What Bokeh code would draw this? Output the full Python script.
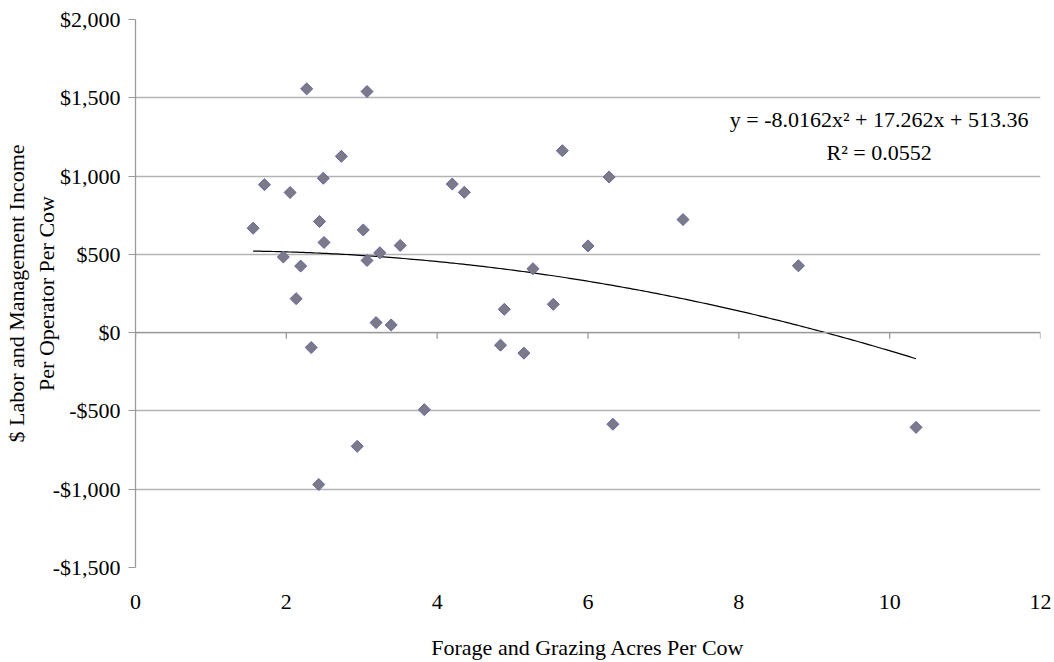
from bokeh.plotting import figure
from bokeh.models import LinearAxis, FixedTicker, CustomJSTickFormatter, Label, Span
from bokeh.embed import file_html
from bokeh.resources import INLINE
import numpy as np

# Data
acres = [2.27, 3.07, 2.73, 2.49, 1.71, 2.05, 2.44, 1.56, 3.02, 2.50, 3.24, 3.51,
         1.96, 3.07, 2.19, 2.13, 3.19, 3.39, 2.33, 2.94, 2.43,
         4.20, 4.36, 5.66, 6.28, 7.26, 6.00, 5.27, 4.89, 5.54,
         4.84, 5.15, 3.83, 6.33, 8.79, 10.35]
income = [1557, 1540, 1126, 986, 945, 895, 710, 667, 656, 576, 510, 557,
          483, 461, 425, 217, 64, 49, -95, -726, -970,
          949, 896, 1162, 994, 722, 554, 408, 149, 181,
          -80, -131, -492, -585, 427, -605]

# Polynomial trendline coefficients (as printed on chart)
coef_a, coef_b, coef_c = -8.0162, 17.262, 513.36
r_squared = "0.0552"

x_ticks = [0, 2, 4, 6, 8, 10, 12]
y_ticks = [-1500, -1000, -500, 0, 500, 1000, 1500, 2000]

FONT = "Liberation Serif"
FS = "22px"
AXIS_GRAY = "#9a9a9a"

p = figure(width=1054, height=662, output_backend="svg", toolbar_location=None,
           x_range=(0, 12), y_range=(-1500, 2000),
           min_border_left=135, min_border_right=14, min_border_top=19,
           min_border_bottom=94, x_axis_location=None, y_axis_location="left")
p.outline_line_color = None
p.background_fill_color = "white"
p.border_fill_color = "white"

# grid
p.xgrid.grid_line_color = None
p.ygrid.ticker = FixedTicker(ticks=y_ticks)
p.ygrid.grid_line_color = "#b3b3b3"
p.ygrid.grid_line_width = 1.3

# y axis
ya = p.yaxis[0]
ya.ticker = FixedTicker(ticks=y_ticks)
ya.formatter = CustomJSTickFormatter(code="""
const a = Math.abs(tick).toLocaleString('en-US');
return (tick < 0 ? '-$' : '$') + a;
""")
ya.axis_line_color = AXIS_GRAY
ya.axis_line_width = 1.3
ya.major_tick_line_color = AXIS_GRAY
ya.major_tick_out = 7
ya.major_tick_in = 0
ya.minor_tick_line_color = None
ya.major_label_text_font = FONT
ya.major_label_text_font_size = FS
ya.major_label_text_color = "black"
ya.major_label_standoff = 8
ya.axis_label = "$ Labor and Management Income\nPer Operator Per Cow"
ya.axis_label_text_font = FONT
ya.axis_label_text_font_size = FS
ya.axis_label_text_font_style = "normal"
ya.axis_label_text_color = "black"
ya.axis_label_standoff = -9

# horizontal axis line at y=0 with downward ticks
p.add_layout(Span(location=0, dimension="width", line_color=AXIS_GRAY, line_width=1.3))
p.ray(x=x_ticks, y=[0] * len(x_ticks), length=6, length_units="screen",
      angle=-np.pi / 2, line_color=AXIS_GRAY, line_width=1.3)

# x axis labels at bottom
xb = LinearAxis(ticker=FixedTicker(ticks=x_ticks))
xb.axis_line_color = None
xb.major_tick_line_color = None
xb.minor_tick_line_color = None
xb.major_tick_out = 0
xb.major_tick_in = 0
xb.major_label_text_font = FONT
xb.major_label_text_font_size = FS
xb.major_label_text_color = "black"
xb.major_label_standoff = 27
xb.axis_label = "Forage and Grazing Acres Per Cow"
xb.axis_label_text_font = FONT
xb.axis_label_text_font_size = FS
xb.axis_label_text_font_style = "normal"
xb.axis_label_text_color = "black"
xb.axis_label_standoff = 23
p.add_layout(xb, "below")

# trendline
xs = np.linspace(min(acres), max(acres), 200)
ys = coef_a * xs**2 + coef_b * xs + coef_c
p.line(xs, ys, line_color="black", line_width=1.2)

# points
p.scatter(acres, income, marker="square", angle=np.pi / 4, size=8.5,
          fill_color="#7a7a88", line_color="#6464a8", line_width=1)

# equation labels
eq = Label(x=9.86, y=1361, text="y = -8.0162x² + 17.262x + 513.36",
           text_font=FONT, text_font_size=FS, text_align="center",
           text_baseline="middle", text_color="black")
r2 = Label(x=9.86, y=1150, text="R² = " + r_squared,
           text_font=FONT, text_font_size=FS, text_align="center",
           text_baseline="middle", text_color="black")
p.add_layout(eq)
p.add_layout(r2)

open("out.html", "w").write(file_html(p, INLINE))
